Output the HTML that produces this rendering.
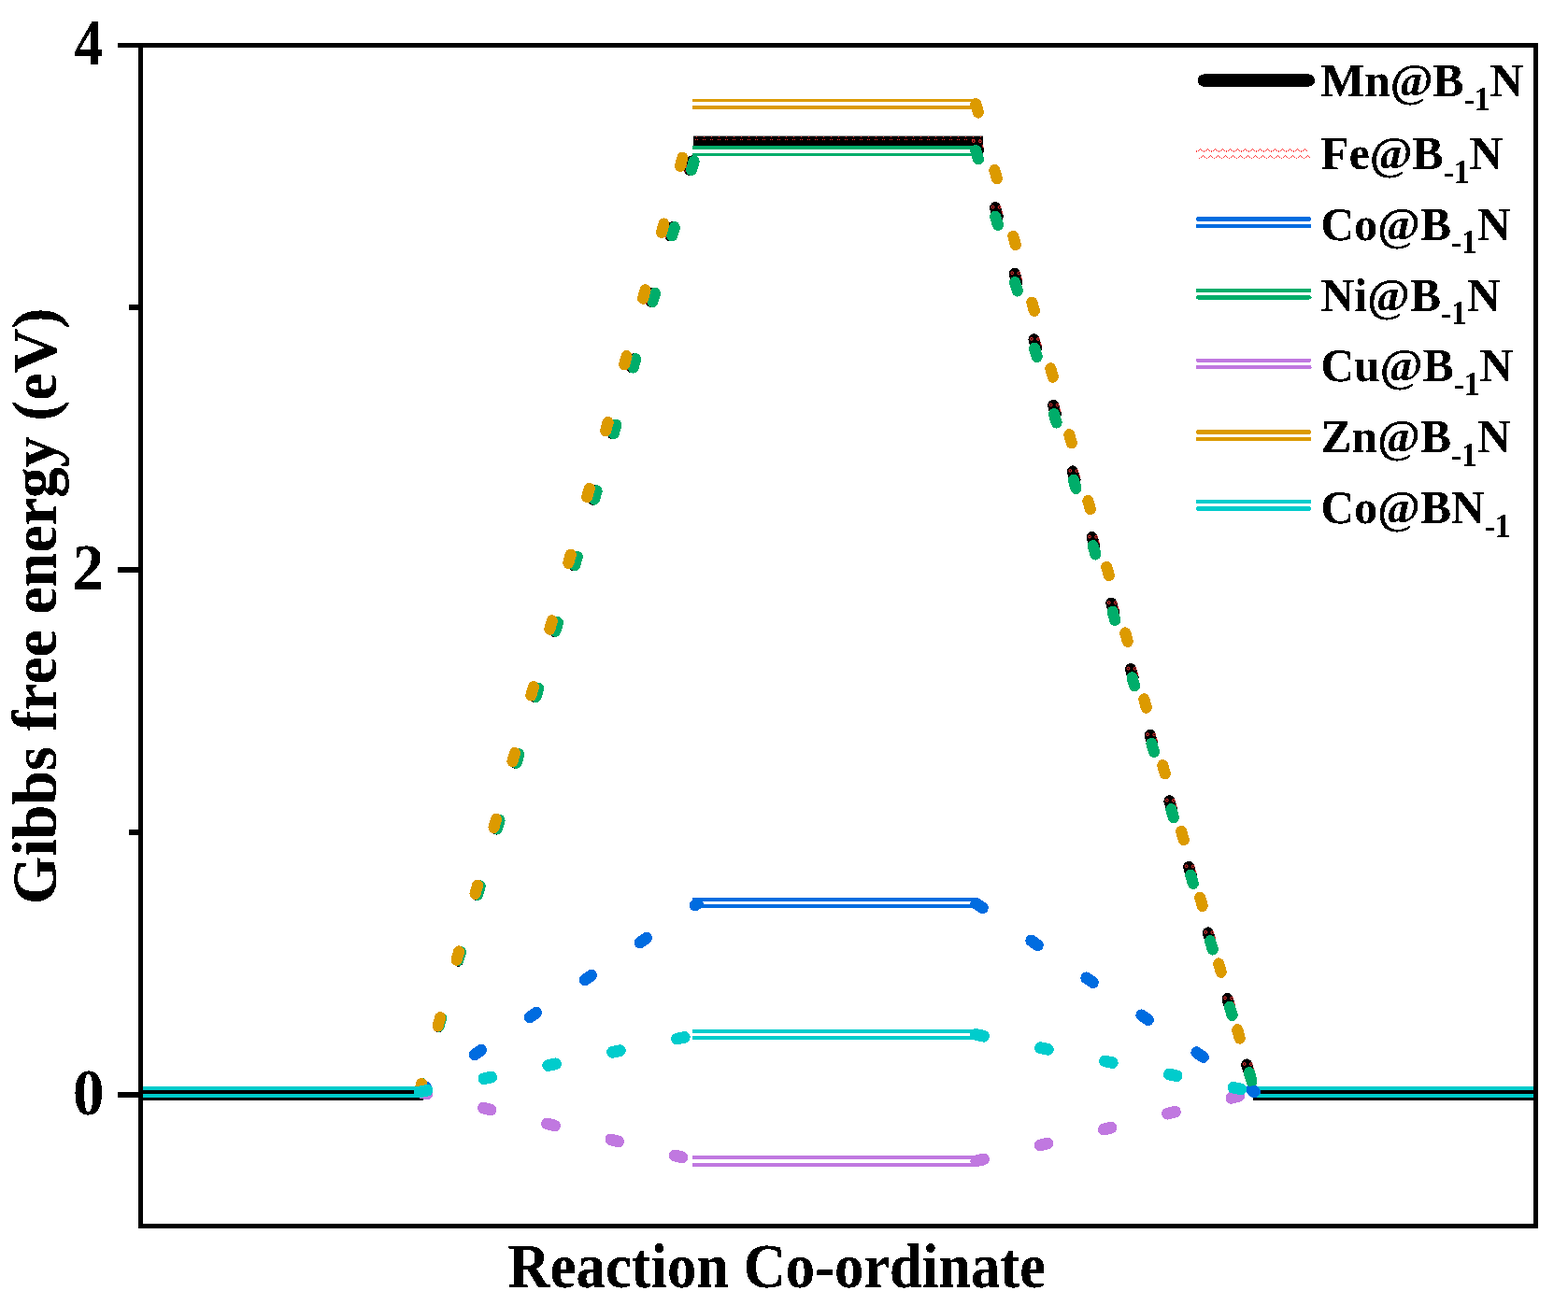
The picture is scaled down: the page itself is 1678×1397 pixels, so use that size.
<!DOCTYPE html>
<html lang="en"><head><meta charset="utf-8"><title>Gibbs free energy vs reaction co-ordinate</title>
<style>html,body{margin:0;padding:0;background:#fff;overflow:hidden;}svg{display:block;}text{font-family:'Liberation Serif', 'Times New Roman', Times, serif;font-weight:bold;fill:#000;}</style></head>
<body>
<svg width="1678" height="1397" viewBox="0 0 1678 1397">
<defs><filter id="bw" x="-5%" y="-5%" width="110%" height="110%" color-interpolation-filters="sRGB"><feComponentTransfer><feFuncA type="discrete" tableValues="0 0 1 1 1"/></feComponentTransfer></filter></defs>
<rect x="0" y="0" width="1678" height="1397" fill="#fff"/>
<g id="series">
<rect x="150" y="1166" width="303" height="12" fill="#000000" shape-rendering="crispEdges"/>
<rect x="742" y="145.6" width="310" height="12.4" fill="#000000" />
<rect x="1341" y="1166" width="302" height="12" fill="#000000" shape-rendering="crispEdges"/>
<line transform="scale(0.95,1)" x1="472.32" y1="1169.5" x2="785.89" y2="152" stroke="#000000" stroke-width="12.7" stroke-linecap="round" stroke-dasharray="9.1 64.75" shape-rendering="crispEdges"/>
<line transform="scale(0.95,1)" x1="1099.37" y1="152" x2="1413.68" y2="1169.5" stroke="#000000" stroke-width="12.7" stroke-linecap="round" stroke-dasharray="9.1 64.75" shape-rendering="crispEdges"/>
<g stroke="#ff3a3a" stroke-width="1" fill="none" shape-rendering="crispEdges">
<line x1="745" y1="146.5" x2="1050" y2="146.5" stroke-dasharray="1 7"/>
<line x1="744" y1="149.5" x2="1050" y2="149.5" stroke-dasharray="1 1 1 5"/>
</g>
<g stroke="#ff3a3a" stroke-width="1" fill="none">
<circle cx="1041.8" cy="151.1" r="1.4"/>
<circle cx="1048.9" cy="151.3" r="1.4"/>
<path d="M1051.1 154.8 l1.2 3.6"/>
<circle cx="1062.5" cy="221.7" r="1.4"/>
<circle cx="1069.6" cy="221.9" r="1.4"/>
<path d="M1071.8 225.4 l1.2 3.6"/>
<circle cx="1083.2" cy="292.3" r="1.4"/>
<circle cx="1090.3" cy="292.5" r="1.4"/>
<path d="M1092.5 296.0 l1.2 3.6"/>
<circle cx="1103.9" cy="362.8" r="1.4"/>
<circle cx="1111.0" cy="363.0" r="1.4"/>
<path d="M1113.2 366.5 l1.2 3.6"/>
<circle cx="1124.6" cy="433.4" r="1.4"/>
<circle cx="1131.7" cy="433.6" r="1.4"/>
<path d="M1133.9 437.1 l1.2 3.6"/>
<circle cx="1145.3" cy="503.9" r="1.4"/>
<circle cx="1152.4" cy="504.1" r="1.4"/>
<path d="M1154.6 507.6 l1.2 3.6"/>
<circle cx="1166.0" cy="574.5" r="1.4"/>
<circle cx="1173.1" cy="574.7" r="1.4"/>
<path d="M1175.3 578.2 l1.2 3.6"/>
<circle cx="1186.7" cy="645.1" r="1.4"/>
<circle cx="1193.8" cy="645.3" r="1.4"/>
<path d="M1196.0 648.8 l1.2 3.6"/>
<circle cx="1207.4" cy="715.6" r="1.4"/>
<circle cx="1214.5" cy="715.8" r="1.4"/>
<path d="M1216.7 719.3 l1.2 3.6"/>
<circle cx="1228.1" cy="786.2" r="1.4"/>
<circle cx="1235.2" cy="786.4" r="1.4"/>
<path d="M1237.4 789.9 l1.2 3.6"/>
<circle cx="1248.8" cy="856.7" r="1.4"/>
<circle cx="1255.9" cy="856.9" r="1.4"/>
<path d="M1258.1 860.4 l1.2 3.6"/>
<circle cx="1269.6" cy="927.3" r="1.4"/>
<circle cx="1276.7" cy="927.5" r="1.4"/>
<path d="M1278.9 931.0 l1.2 3.6"/>
<circle cx="1290.3" cy="997.9" r="1.4"/>
<circle cx="1297.4" cy="998.1" r="1.4"/>
<path d="M1299.6 1001.6 l1.2 3.6"/>
<circle cx="1311.0" cy="1068.4" r="1.4"/>
<circle cx="1318.1" cy="1068.6" r="1.4"/>
<path d="M1320.3 1072.1 l1.2 3.6"/>
<circle cx="1331.7" cy="1139.0" r="1.4"/>
<circle cx="1338.8" cy="1139.2" r="1.4"/>
<path d="M1341.0 1142.7 l1.2 3.6"/>
<path d="M443.6 1172.7 l.6 -2.2 m.8 -3 l.6 -2.2"/>
<path d="M464.2 1102.1 l.6 -2.2 m.8 -3 l.6 -2.2"/>
<path d="M484.9 1031.5 l.6 -2.2 m.8 -3 l.6 -2.2"/>
<path d="M505.6 960.9 l.6 -2.2 m.8 -3 l.6 -2.2"/>
<path d="M526.2 890.4 l.6 -2.2 m.8 -3 l.6 -2.2"/>
<path d="M546.9 819.8 l.6 -2.2 m.8 -3 l.6 -2.2"/>
<path d="M567.5 749.2 l.6 -2.2 m.8 -3 l.6 -2.2"/>
<path d="M588.2 678.6 l.6 -2.2 m.8 -3 l.6 -2.2"/>
<path d="M608.9 608.1 l.6 -2.2 m.8 -3 l.6 -2.2"/>
<path d="M629.5 537.5 l.6 -2.2 m.8 -3 l.6 -2.2"/>
<path d="M650.2 466.9 l.6 -2.2 m.8 -3 l.6 -2.2"/>
<path d="M670.9 396.3 l.6 -2.2 m.8 -3 l.6 -2.2"/>
<path d="M691.5 325.8 l.6 -2.2 m.8 -3 l.6 -2.2"/>
<path d="M712.2 255.2 l.6 -2.2 m.8 -3 l.6 -2.2"/>
<path d="M732.8 184.6 l.6 -2.2 m.8 -3 l.6 -2.2"/>
</g>
<rect x="741" y="961" width="305" height="4" fill="#006ce0" shape-rendering="crispEdges"/>
<rect x="741" y="968" width="305" height="4" fill="#006ce0" shape-rendering="crispEdges"/>
<line transform="scale(0.95,1)" x1="472.32" y1="1169" x2="785.89" y2="967" stroke="#006ce0" stroke-width="12.7" stroke-linecap="round" stroke-dasharray="9.1 64.75" shape-rendering="crispEdges"/>
<line transform="scale(0.95,1)" x1="1099.37" y1="967" x2="1413.68" y2="1169" stroke="#006ce0" stroke-width="12.7" stroke-linecap="round" stroke-dasharray="9.1 64.75" shape-rendering="crispEdges"/>
<rect x="741" y="156" width="305" height="4" fill="#00ad6a" shape-rendering="crispEdges"/>
<rect x="741" y="164" width="305" height="3" fill="#00ad6a" shape-rendering="crispEdges"/>
<line transform="scale(0.95,1)" x1="472.32" y1="1169" x2="785.89" y2="159.4" stroke="#00ad6a" stroke-width="12.7" stroke-linecap="round" stroke-dasharray="9.1 64.75" shape-rendering="crispEdges"/>
<line transform="scale(0.95,1)" x1="1099.37" y1="161.5" x2="1413.68" y2="1169" stroke="#00ad6a" stroke-width="12.7" stroke-linecap="round" stroke-dasharray="9.1 64.75" shape-rendering="crispEdges"/>
<rect x="741" y="1237" width="305" height="4" fill="#c078e0" shape-rendering="crispEdges"/>
<rect x="741" y="1245" width="305" height="4" fill="#c078e0" shape-rendering="crispEdges"/>
<line transform="scale(0.95,1)" x1="472.32" y1="1169" x2="785.89" y2="1243" stroke="#c078e0" stroke-width="12.7" stroke-linecap="round" stroke-dasharray="9.1 64.75" shape-rendering="crispEdges"/>
<line transform="scale(0.95,1)" x1="1099.37" y1="1243" x2="1413.68" y2="1169" stroke="#c078e0" stroke-width="12.7" stroke-linecap="round" stroke-dasharray="9.1 64.75" shape-rendering="crispEdges"/>
<rect x="741" y="106" width="305" height="3" fill="#dc9a00" shape-rendering="crispEdges"/>
<rect x="741" y="113" width="305" height="4" fill="#dc9a00" shape-rendering="crispEdges"/>
<line transform="scale(0.95,1)" x1="472.32" y1="1169" x2="785.89" y2="111.5" stroke="#dc9a00" stroke-width="12.7" stroke-linecap="round" stroke-dasharray="9.1 64.75" shape-rendering="crispEdges"/>
<line transform="scale(0.95,1)" x1="1099.37" y1="111.5" x2="1413.68" y2="1169" stroke="#dc9a00" stroke-width="12.7" stroke-linecap="round" stroke-dasharray="9.1 64.75" shape-rendering="crispEdges"/>
<rect x="150" y="1163" width="296" height="4" fill="#00cccc" shape-rendering="crispEdges"/>
<rect x="150" y="1171" width="296" height="4" fill="#00cccc" shape-rendering="crispEdges"/>
<rect x="1345" y="1163" width="298" height="4" fill="#00cccc" shape-rendering="crispEdges"/>
<rect x="1345" y="1171" width="298" height="4" fill="#00cccc" shape-rendering="crispEdges"/>
<rect x="741" y="1102" width="305" height="4" fill="#00cccc" shape-rendering="crispEdges"/>
<rect x="741" y="1109" width="305" height="4" fill="#00cccc" shape-rendering="crispEdges"/>
<line transform="scale(0.95,1)" x1="472.32" y1="1169" x2="785.89" y2="1107.5" stroke="#00cccc" stroke-width="12.7" stroke-linecap="round" stroke-dasharray="9.1 64.75" shape-rendering="crispEdges"/>
<line transform="scale(0.95,1)" x1="1099.37" y1="1107.5" x2="1413.68" y2="1169" stroke="#00cccc" stroke-width="12.7" stroke-linecap="round" stroke-dasharray="9.1 64.75" shape-rendering="crispEdges"/>
<ellipse cx="1341.7" cy="1168.5" rx="6.9" ry="6.4" fill="#006ce0"/>
</g>
<g id="axes" fill="#000" shape-rendering="crispEdges">
<rect x="148" y="46" width="5" height="1269" fill="#000" />
<rect x="1641" y="46" width="5" height="1269" fill="#000" />
<rect x="148" y="46" width="1498" height="5" fill="#000" />
<rect x="148" y="1310" width="1498" height="5" fill="#000" />
<rect x="126" y="46" width="24" height="5" fill="#000" />
<rect x="126" y="607" width="24" height="6" fill="#000" />
<rect x="126" y="1169" width="24" height="6" fill="#000" />
<rect x="138" y="326" width="12" height="6" fill="#000" />
<rect x="138" y="888" width="12" height="6" fill="#000" />
</g>
<g id="ticklabels" font-size="69.8" text-anchor="end" filter="url(#bw)">
<text transform="translate(110.4,69.3) scale(0.875,1)">4</text>
<text transform="translate(111.1,631) scale(0.965,1)">2</text>
<text transform="translate(111.6,1192.8) scale(0.96,1)">0</text>
</g>
<text id="xlabel" filter="url(#bw)" transform="translate(831.3,1378) scale(0.939,1)" font-size="66.67" text-anchor="middle">Reaction Co-ordinate</text>
<text id="ylabel" filter="url(#bw)" transform="translate(59.8,648.8) rotate(-90) scale(0.99,1)" font-size="66.67" text-anchor="middle">Gibbs free energy (eV)</text>
<g id="legend" filter="url(#bw)">
<line x1="1288.4" y1="86" x2="1400.4" y2="86" stroke="#000" stroke-width="13.2" stroke-linecap="round"/>
<text transform="translate(1413.5,103.2) scale(0.96,1)" font-size="51.5">Mn@B<tspan font-size="35" dy="14.6">-1</tspan><tspan dy="-14.6">N</tspan></text>
<path d="M1280.0 162.0 l.9 0 M1282.2 161.6 l2.2 -2.4 l2.2 2.4 M1288.0 162.0 l.9 0 M1290.2 161.6 l2.2 -2.4 l2.2 2.4 M1296.0 162.0 l.9 0 M1298.2 161.6 l2.2 -2.4 l2.2 2.4 M1304.0 162.0 l.9 0 M1306.2 161.6 l2.2 -2.4 l2.2 2.4 M1312.0 162.0 l.9 0 M1314.2 161.6 l2.2 -2.4 l2.2 2.4 M1320.0 162.0 l.9 0 M1322.2 161.6 l2.2 -2.4 l2.2 2.4 M1328.0 162.0 l.9 0 M1330.2 161.6 l2.2 -2.4 l2.2 2.4 M1336.0 162.0 l.9 0 M1338.2 161.6 l2.2 -2.4 l2.2 2.4 M1344.0 162.0 l.9 0 M1346.2 161.6 l2.2 -2.4 l2.2 2.4 M1352.0 162.0 l.9 0 M1354.2 161.6 l2.2 -2.4 l2.2 2.4 M1360.0 162.0 l.9 0 M1362.2 161.6 l2.2 -2.4 l2.2 2.4 M1368.0 162.0 l.9 0 M1370.2 161.6 l2.2 -2.4 l2.2 2.4 M1376.0 162.0 l.9 0 M1378.2 161.6 l2.2 -2.4 l2.2 2.4 M1384.0 162.0 l.9 0 M1386.2 161.6 l2.2 -2.4 l2.2 2.4 M1392.0 162.0 l.9 0 M1394.2 161.6 l2.2 -2.4 l2.2 2.4" stroke="#ff3a3a" stroke-width="1" fill="none"/>
<path d="M1283.0 169.2 l.9 0 M1285.2 168.8 l2.2 -2.4 l2.2 2.4 M1291.0 169.2 l.9 0 M1293.2 168.8 l2.2 -2.4 l2.2 2.4 M1299.0 169.2 l.9 0 M1301.2 168.8 l2.2 -2.4 l2.2 2.4 M1307.0 169.2 l.9 0 M1309.2 168.8 l2.2 -2.4 l2.2 2.4 M1315.0 169.2 l.9 0 M1317.2 168.8 l2.2 -2.4 l2.2 2.4 M1323.0 169.2 l.9 0 M1325.2 168.8 l2.2 -2.4 l2.2 2.4 M1331.0 169.2 l.9 0 M1333.2 168.8 l2.2 -2.4 l2.2 2.4 M1339.0 169.2 l.9 0 M1341.2 168.8 l2.2 -2.4 l2.2 2.4 M1347.0 169.2 l.9 0 M1349.2 168.8 l2.2 -2.4 l2.2 2.4 M1355.0 169.2 l.9 0 M1357.2 168.8 l2.2 -2.4 l2.2 2.4 M1363.0 169.2 l.9 0 M1365.2 168.8 l2.2 -2.4 l2.2 2.4 M1371.0 169.2 l.9 0 M1373.2 168.8 l2.2 -2.4 l2.2 2.4 M1379.0 169.2 l.9 0 M1381.2 168.8 l2.2 -2.4 l2.2 2.4 M1387.0 169.2 l.9 0 M1389.2 168.8 l2.2 -2.4 l2.2 2.4 M1395.0 169.2 l.9 0 M1397.2 168.8 l2.2 -2.4 l2.2 2.4" stroke="#ff3a3a" stroke-width="1" fill="none"/>
<text transform="translate(1413.5,181.1) scale(0.96,1)" font-size="51.5">Fe@B<tspan font-size="35" dy="14.6">-1</tspan><tspan dy="-14.6">N</tspan></text>
<line x1="1282" y1="234.5" x2="1401.2" y2="234.5" stroke="#006ce0" stroke-width="4.3" stroke-linecap="round"/>
<line x1="1282" y1="241.9" x2="1401.2" y2="241.9" stroke="#006ce0" stroke-width="4.3" stroke-linecap="round"/>
<text transform="translate(1413.5,256.6) scale(0.96,1)" font-size="51.5">Co@B<tspan font-size="35" dy="14.6">-1</tspan><tspan dy="-14.6">N</tspan></text>
<line x1="1282" y1="310.9" x2="1401.2" y2="310.9" stroke="#00ad6a" stroke-width="4.3" stroke-linecap="round"/>
<line x1="1282" y1="318.3" x2="1401.2" y2="318.3" stroke="#00ad6a" stroke-width="4.3" stroke-linecap="round"/>
<text transform="translate(1413.5,332.5) scale(0.96,1)" font-size="51.5">Ni@B<tspan font-size="35" dy="14.6">-1</tspan><tspan dy="-14.6">N</tspan></text>
<line x1="1282" y1="385.8" x2="1401.2" y2="385.8" stroke="#c078e0" stroke-width="4.3" stroke-linecap="round"/>
<line x1="1282" y1="393.2" x2="1401.2" y2="393.2" stroke="#c078e0" stroke-width="4.3" stroke-linecap="round"/>
<text transform="translate(1413.5,407.9) scale(0.96,1)" font-size="51.5">Cu@B<tspan font-size="35" dy="14.6">-1</tspan><tspan dy="-14.6">N</tspan></text>
<line x1="1282" y1="462.5" x2="1401.2" y2="462.5" stroke="#dc9a00" stroke-width="4.3" stroke-linecap="round"/>
<line x1="1282" y1="469.9" x2="1401.2" y2="469.9" stroke="#dc9a00" stroke-width="4.3" stroke-linecap="round"/>
<text transform="translate(1413.5,483.9) scale(0.96,1)" font-size="51.5">Zn@B<tspan font-size="35" dy="14.6">-1</tspan><tspan dy="-14.6">N</tspan></text>
<line x1="1282" y1="537.1" x2="1401.2" y2="537.1" stroke="#00cccc" stroke-width="4.3" stroke-linecap="round"/>
<line x1="1282" y1="544.5" x2="1401.2" y2="544.5" stroke="#00cccc" stroke-width="4.3" stroke-linecap="round"/>
<text transform="translate(1413.5,560.4) scale(0.96,1)" font-size="51.5">Co@BN<tspan font-size="35" dy="14.6">-1</tspan><tspan dy="-14.6"></tspan></text>
</g>
</svg>
</body></html>
